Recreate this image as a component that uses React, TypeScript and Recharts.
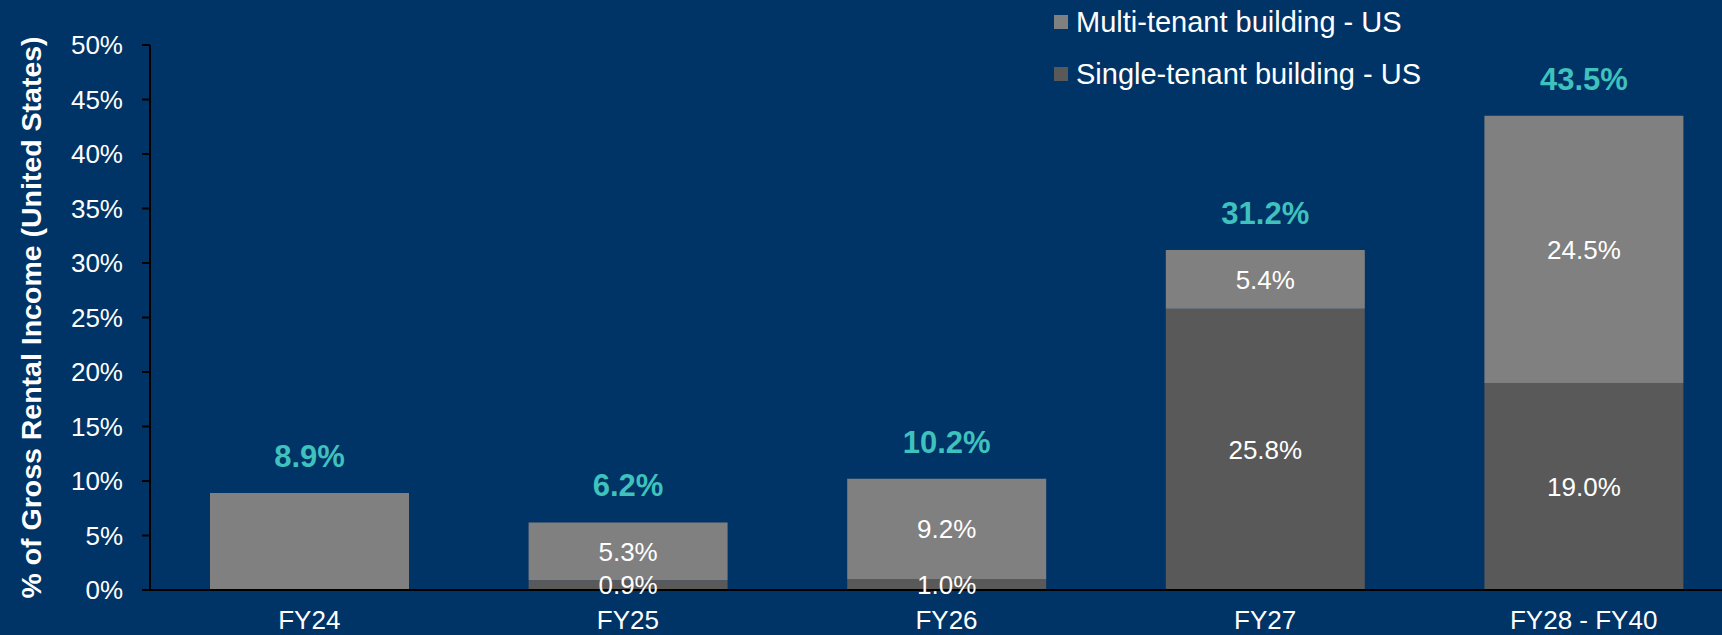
import { BarChart, Bar, XAxis, YAxis, LabelList, Legend } from "recharts";

const categories = ["FY24", "FY25", "FY26", "FY27", "FY28 - FY40"];
const singleTenant = [0, 0.9, 1.0, 25.8, 19.0];
const multiTenant = [8.9, 5.3, 9.2, 5.4, 24.5];
const multiLabels = ["", "5.3%", "9.2%", "5.4%", "24.5%"];
const totals = ["8.9%", "6.2%", "10.2%", "31.2%", "43.5%"];
const yTicks = [0, 5, 10, 15, 20, 25, 30, 35, 40, 45, 50];
const edgeTicks = [0, 1, 2, 3, 4, 5];

const BG = "#003366";
const MULTI = "#808080";
const SINGLE = "#595959";
const TEAL = "#3fc1bd";

const data = categories.map((name, i) => ({
  name,
  single: singleTenant[i],
  multi: multiTenant[i],
  multiLabel: multiLabels[i],
  total: totals[i],
}));

// multi-tenant on top, like the stack
function LegendBox({ payload }: any) {
  const items = [...(payload ?? [])].sort((a: any, b: any) =>
    a.value.startsWith("Multi") ? -1 : b.value.startsWith("Multi") ? 1 : 0
  );
  return (
    <div>
      {items.map((p: any) => (
        <div
          key={p.value}
          style={{ display: "flex", alignItems: "center", height: 52, fontSize: 29, color: "#fff" }}
        >
          <span style={{ width: 14, height: 14, background: p.color, marginRight: 8 }} />
          {p.value}
        </div>
      ))}
    </div>
  );
}

export default function App() {
  return (
    <div
      style={{
        position: "fixed",
        left: 0,
        top: 0,
        width: 1722,
        height: 635,
        overflow: "hidden",
        background: BG,
        fontFamily: "'Liberation Sans', Arial, sans-serif",
      }}
    >
      <BarChart
        width={1743}
        height={635}
        data={data}
        margin={{ top: 45, right: 0, left: 0, bottom: 0 }}
      >
        <XAxis
          xAxisId="edges"
          type="number"
          domain={[0, 5]}
          ticks={edgeTicks}
          allowDataOverflow
          interval={0}
          height={0}
          axisLine={false}
          tickLine={{ stroke: "#000", strokeWidth: 2 }}
          tickSize={8}
          tickFormatter={() => ""}
        />
        <XAxis
          xAxisId="cat"
          dataKey="name"
          height={45}
          interval={0}
          axisLine={{ stroke: "#000", strokeWidth: 2 }}
          tickLine={false}
          tickSize={8}
          tickMargin={13}
          tick={{ fill: "#fff", fontSize: 26 }}
        />
        <YAxis
          width={150}
          domain={[0, 50]}
          ticks={yTicks}
          interval={0}
          tickFormatter={(v) => `${v}%`}
          axisLine={{ stroke: "#000", strokeWidth: 2 }}
          tickLine={{ stroke: "#000", strokeWidth: 2 }}
          tickSize={8}
          tickMargin={19}
          tick={{ fill: "#fff", fontSize: 26 }}
          label={{
            value: "% of Gross Rental Income (United States)",
            angle: -90,
            position: "insideLeft",
            offset: 31,
            fill: "#fff",
            fontSize: 28.5,
            fontWeight: "bold",
            style: { textAnchor: "middle" },
          }}
        />
        <Legend
          layout="vertical"
          align="center"
          verticalAlign="middle"
          wrapperStyle={{ top: -4, left: 1054, width: 460 }}
          content={LegendBox}
        />
        <Bar
          xAxisId="cat"
          dataKey="single"
          name="Single-tenant building - US"
          stackId="a"
          fill={SINGLE}
          barSize={199}
          isAnimationActive={false}
        >
          <LabelList
            dataKey="single"
            position="center"
            formatter={(v: any) => (v > 0 ? `${Number(v).toFixed(1)}%` : "")}
            fill="#fff"
            fontSize={26}
          />
        </Bar>
        <Bar
          xAxisId="cat"
          dataKey="multi"
          name="Multi-tenant building - US"
          stackId="a"
          fill={MULTI}
          barSize={199}
          isAnimationActive={false}
        >
          <LabelList dataKey="multiLabel" position="center" fill="#fff" fontSize={26} />
          <LabelList
            dataKey="total"
            position="top"
            offset={26}
            fill={TEAL}
            fontSize={31}
            fontWeight="bold"
          />
        </Bar>
      </BarChart>
    </div>
  );
}
